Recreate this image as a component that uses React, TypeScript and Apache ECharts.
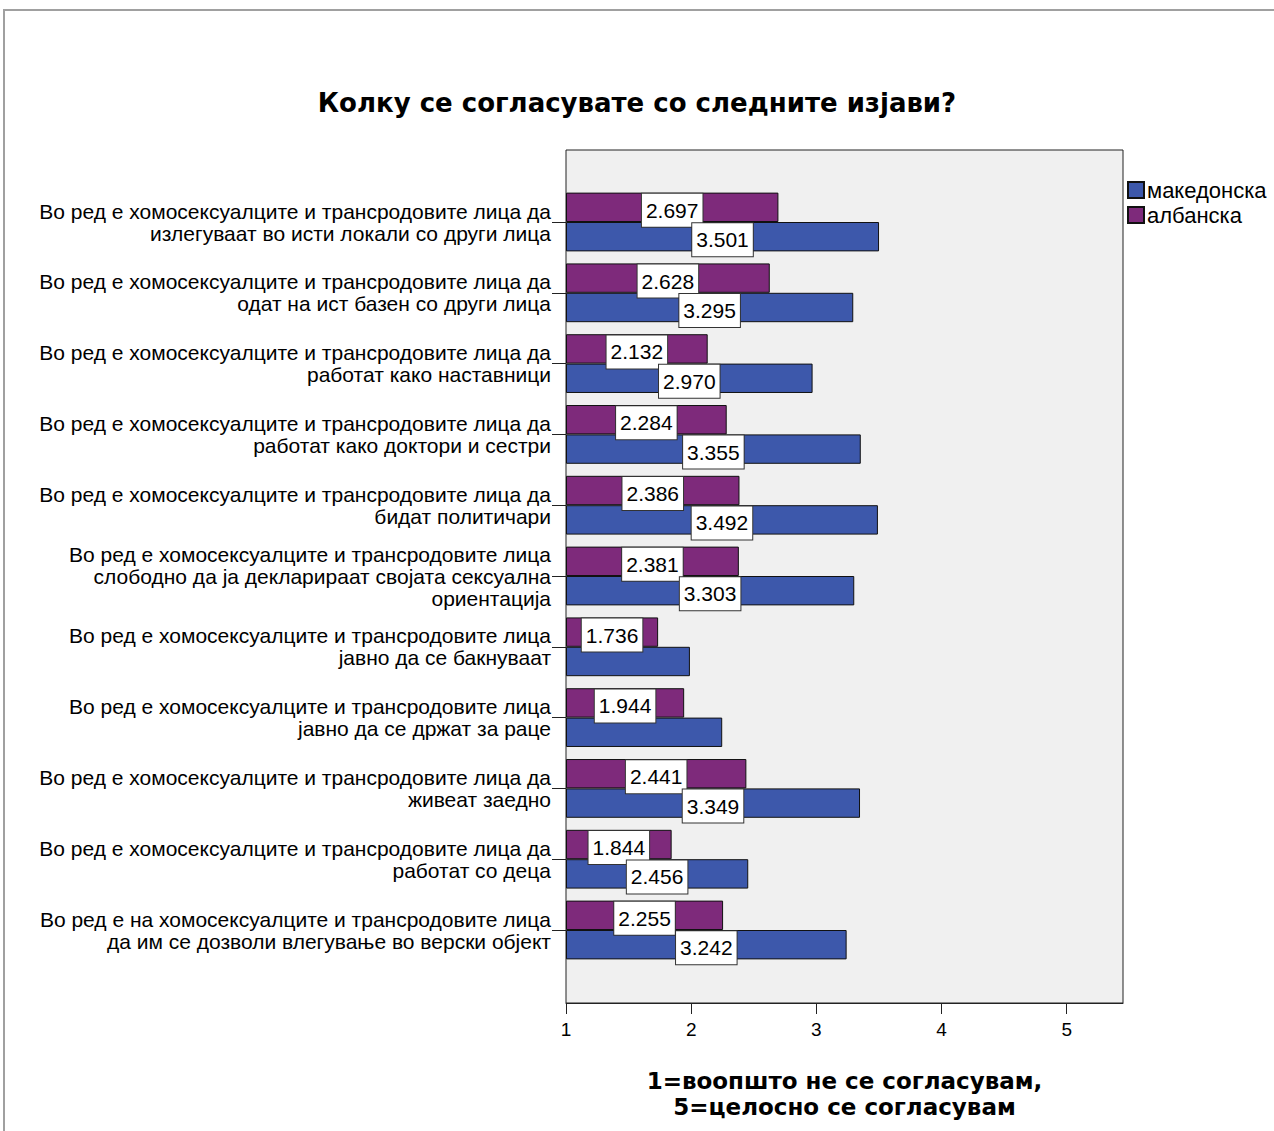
import React, { useEffect, useRef } from "react";
import * as echarts from "echarts";

const titleText = "Колку се согласувате со следните изјави?";
const axisNameText = "1=воопшто не се согласувам,\n5=целосно се согласувам";
const seriesNames = ["македонска", "албанска"];

const categories = [
  "Во ред е хомосексуалците и трансродовите лица да\nизлегуваат во исти локали со други лица",
  "Во ред е хомосексуалците и трансродовите лица да\nодат на ист базен со други лица",
  "Во ред е хомосексуалците и трансродовите лица да\nработат како наставници",
  "Во ред е хомосексуалците и трансродовите лица да\nработат како доктори и сестри",
  "Во ред е хомосексуалците и трансродовите лица да\nбидат политичари",
  "Во ред е хомосексуалците и трансродовите лица\nслободно да ја декларираат својата сексуална\nориентација",
  "Во ред е хомосексуалците и трансродовите лица\nјавно да се бакнуваат",
  "Во ред е хомосексуалците и трансродовите лица\nјавно да се држат за раце",
  "Во ред е хомосексуалците и трансродовите лица да\nживеат заедно",
  "Во ред е хомосексуалците и трансродовите лица да\nработат со деца",
  "Во ред е на хомосексуалците и трансродовите лица\nда им се дозволи влегување во верски објект",
];

const macedonian = [3.501, 3.295, 2.97, 3.355, 3.492, 3.303, 1.99, 2.248, 3.349, 2.456, 3.242];
const albanian = [2.697, 2.628, 2.132, 2.284, 2.386, 2.381, 1.736, 1.944, 2.441, 1.844, 2.255];
// rows whose Macedonian value label is not shown in the reference
const macedonianHiddenLabels = [6, 7];

const xTicks = [1, 2, 3, 4, 5];
const xMin = 1;
const xMax = 5.45;

const FONT = "Liberation Sans, Arial, sans-serif";
const BOLD_FONT = "DejaVu Sans, Liberation Sans, Arial, sans-serif";

export default function App() {
  const ref = useRef<HTMLDivElement>(null);
  useEffect(() => {
    if (!ref.current) return;
    const chart = echarts.init(ref.current, null, { renderer: "svg" });
    const labelStyle = {
      show: true,
      position: "inside",
      offset: [0, 3],
      color: "#000",
      fontFamily: FONT,
      fontSize: 21,
      lineHeight: 21,
      backgroundColor: "#fff",
      borderColor: "#333",
      borderWidth: 1,
      padding: [7, 4, 5, 4],
      formatter: (p: any) => Number(p.value).toFixed(3),
    };
    const gridLeft = 566;
    const gridRight = 1123;
    const plotTop = 150;
    const plotBottom = 1003;
    chart.setOption({
      animation: false,
      backgroundColor: "#fff",
      textStyle: { fontFamily: FONT },
      title: {
        text: titleText,
        left: "center",
        top: 85,
        textStyle: { fontFamily: BOLD_FONT, fontSize: 26, fontWeight: "bold", color: "#000" },
      },
      legend: {
        data: seriesNames,
        orient: "vertical",
        left: 1127,
        top: 179,
        itemWidth: 16,
        itemHeight: 16,
        itemGap: 3,
        icon: "rect",
        padding: 0,
        textStyle: { fontFamily: FONT, fontSize: 22, lineHeight: 22, color: "#000", padding: [0, 0, 0, -2] },
      },
      graphic: [
        {
          type: "rect",
          z: 0,
          silent: true,
          shape: { x: 4, y: 10, width: 1300, height: 1200 },
          style: { fill: "none", stroke: "#a0a0a0", lineWidth: 2 },
        },
        {
          type: "rect",
          z: 0,
          silent: true,
          shape: { x: gridLeft, y: plotTop, width: gridRight - gridLeft, height: plotBottom - plotTop },
          style: { fill: "#f0f0f0", stroke: "#222", lineWidth: 1 },
        },
      ],
      grid: { left: gridLeft, right: 1274 - gridRight, top: 186.6, bottom: 1131 - 965.4, containLabel: false },
      xAxis: {
        type: "value",
        min: xMin,
        max: xMax,
        interval: 1,
        startValue: xMin,
        offset: 37.6,
        splitLine: { show: false },
        axisLine: { show: true, lineStyle: { color: "#222", width: 1 } },
        axisTick: { show: true, length: 11, lineStyle: { color: "#222" }, customValues: xTicks },
        axisLabel: { customValues: xTicks, color: "#000", fontSize: 19, fontFamily: FONT, margin: 17 },
        name: axisNameText,
        nameLocation: "middle",
        nameGap: 65,
        nameTextStyle: { fontFamily: BOLD_FONT, fontSize: 23, fontWeight: "bold", color: "#000", lineHeight: 26 },
      },
      yAxis: {
        type: "category",
        data: categories,
        inverse: true,
        axisLine: { show: false },
        axisTick: { show: true, alignWithLabel: true, length: 14, lineStyle: { color: "#222" } },
        axisLabel: {
          color: "#000",
          fontSize: 21,
          fontFamily: FONT,
          lineHeight: 22,
          margin: 15,
          align: "right",
          interval: 0,
        },
      },
      series: [
        {
          name: seriesNames[1],
          type: "bar",
          barGap: "0%",
          barCategoryGap: "17%",
          itemStyle: { color: "#7e2a7b", borderColor: "#111", borderWidth: 1 },
          label: labelStyle,
          data: albanian,
        },
        {
          name: seriesNames[0],
          type: "bar",
          barGap: "0%",
          barCategoryGap: "17%",
          itemStyle: { color: "#3d58ab", borderColor: "#111", borderWidth: 1 },
          label: labelStyle,
          data: macedonian.map((v, i) =>
            macedonianHiddenLabels.includes(i) ? { value: v, label: { show: false } } : v
          ),
        },
      ],
    });
    return () => chart.dispose();
  }, []);
  return (
    <div
      ref={ref}
      style={{ position: "absolute", left: 0, top: 0, width: 1274, height: 1131 }}
    />
  );
}
